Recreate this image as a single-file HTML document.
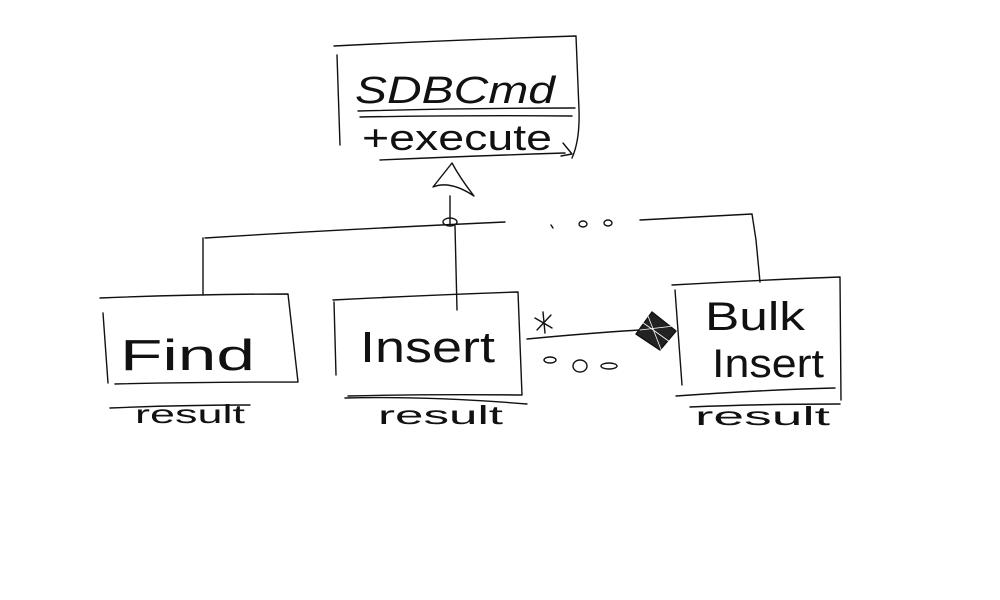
<!DOCTYPE html>
<html><head><meta charset="utf-8"><style>
html,body{margin:0;padding:0;background:#fff;width:1000px;height:600px;overflow:hidden}
svg text{font-family:"Liberation Sans",sans-serif;fill:#111;font-weight:normal}
</style></head><body>
<svg width="1000" height="600" viewBox="0 0 1000 600" xmlns="http://www.w3.org/2000/svg">
<g fill="none" stroke="#111" stroke-width="1.4" stroke-linecap="round" stroke-linejoin="round">
<!-- top box -->
<path d="M334 46 Q450 40 576 36 L579 110 Q580 140 572 158"/>
<path d="M337 55 L340 145"/>
<path d="M358 111 Q470 108 575 108"/>
<path d="M360 117 Q470 115 572 116"/>
<path d="M380 160 Q470 156 565 153"/>
<path d="M563 143 L572 154 L561 156"/>
<!-- triangle -->
<path d="M452 163 L433 187 Q450 180 474 196 Q460 178 452 163 Z"/>
<path d="M450 196 L450 225"/>
<!-- hierarchy lines -->
<path d="M205 238 Q330 230 505 222"/>
<ellipse cx="450" cy="222" rx="7" ry="4"/>
<path d="M640 220 Q700 217 752 214 L756 240 L760 282"/>
<path d="M203 238 L203 295"/>
<path d="M455 226 L457 310"/>
<ellipse cx="583" cy="224" rx="4" ry="3"/>
<ellipse cx="608" cy="223" rx="4" ry="3"/>
<path d="M551 225 L553 228"/>
<!-- Find box -->
<path d="M100 298 Q200 294 288 294 L298 382 Q200 382 115 384"/>
<path d="M103 313 L108 383"/>
<path d="M110 408 Q180 405 250 405"/>
<!-- Insert box -->
<path d="M333 300 Q430 295 518 292 L522 395 Q430 394 348 396"/>
<path d="M334 302 L336 375"/>
<path d="M345 398 Q430 396 527 404"/>
<!-- Bulk Insert box -->
<path d="M672 285 Q760 280 840 277 L841 400"/>
<path d="M675 290 L682 385"/>
<path d="M676 396 Q760 390 835 388"/>
<path d="M690 407 Q760 404 840 404"/>
<!-- association -->
<path d="M527 339 Q590 333 640 330"/>
<path d="M535 318 L552 328 M551 315 L537 330 M543 312 L545 333"/>
<path d="M652 312 L676 331 L660 350 L636 334 Z" fill="#222"/>
<path d="M642 322 L670 342 M648 316 L662 352 M640 330 L674 326" stroke="#fff" stroke-width="0.8"/>
<ellipse cx="550" cy="360" rx="6" ry="3"/>
<ellipse cx="580" cy="366" rx="7" ry="6"/>
<ellipse cx="609" cy="366" rx="8" ry="3"/>
</g>
<text x="355" y="103" font-size="38" textLength="200" lengthAdjust="spacingAndGlyphs" style="font-style:italic">SDBCmd</text>
<text x="362" y="150" font-size="36" textLength="190" lengthAdjust="spacingAndGlyphs">+execute</text>
<text x="120" y="370" font-size="44" textLength="135" lengthAdjust="spacingAndGlyphs">Find</text>
<text x="360" y="362" font-size="44" textLength="135" lengthAdjust="spacingAndGlyphs">Insert</text>
<text x="705" y="330" font-size="40" textLength="100" lengthAdjust="spacingAndGlyphs">Bulk</text>
<text x="712" y="377" font-size="40" textLength="112" lengthAdjust="spacingAndGlyphs">Insert</text>
<text x="135" y="423" font-size="26" textLength="110" lengthAdjust="spacingAndGlyphs">result</text>
<text x="378" y="424" font-size="26" textLength="125" lengthAdjust="spacingAndGlyphs">result</text>
<text x="695" y="425" font-size="26" textLength="135" lengthAdjust="spacingAndGlyphs">result</text>
</svg>
</body></html>
